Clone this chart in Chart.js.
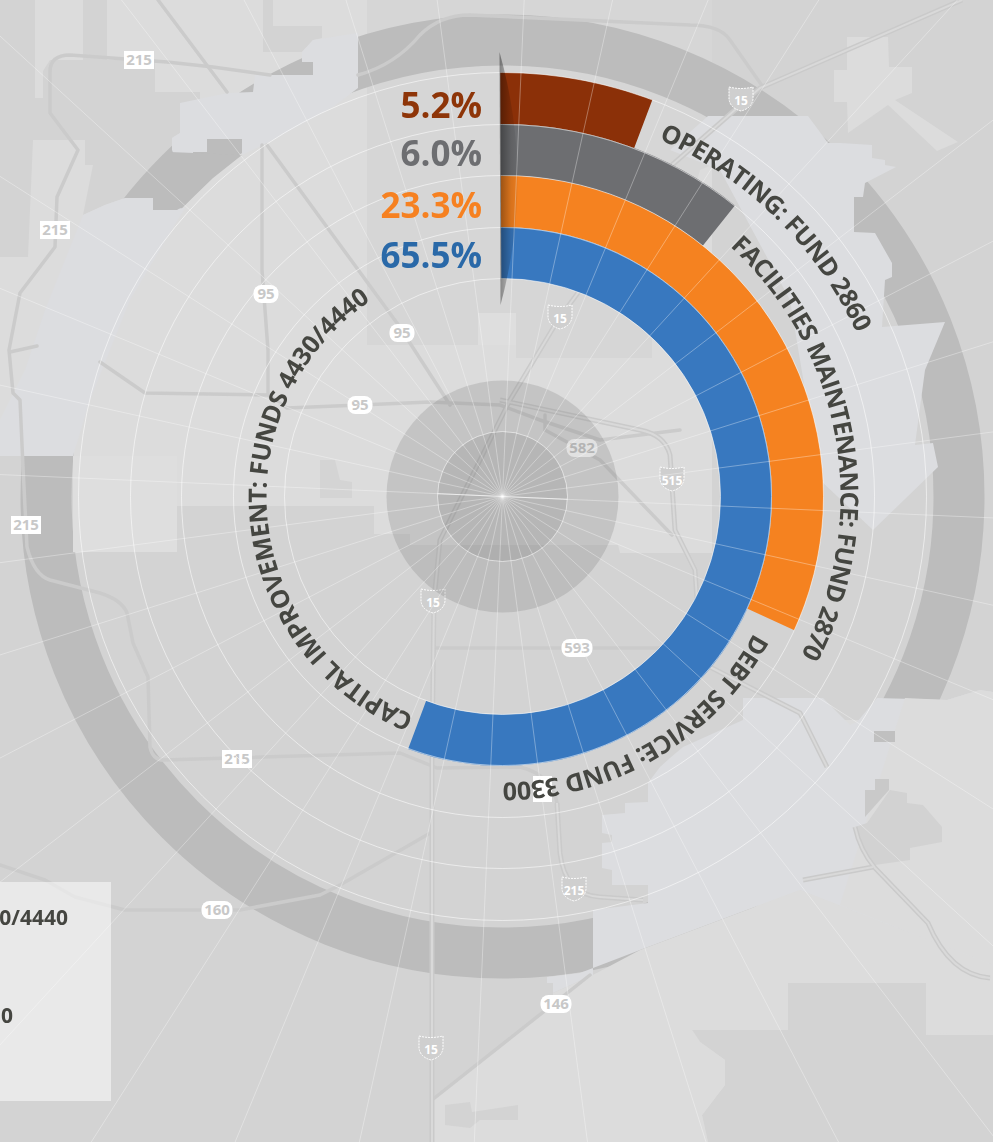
<!DOCTYPE html>
<html>
<head>
<meta charset="utf-8">
<title>Fund allocation</title>
<script src="https://cdn.jsdelivr.net/npm/chart.js@4"></script>
<style>
  html, body { margin: 0; padding: 0; background: #dcdcdc; }
  #wrap { position: relative; width: 993px; height: 1142px; overflow: hidden; }
  #wrap svg, #wrap canvas { position: absolute; left: 0; top: 0; }
  .road { fill: none; stroke: #cbcbcb; stroke-width: 3.5; stroke-linejoin: round; stroke-linecap: round; }
  .hwy { fill: none; stroke: #cacaca; stroke-width: 5; stroke-linejoin: round; }
  .hwy2 { fill: none; stroke: #d9d9d9; stroke-width: 2; stroke-linejoin: round; }
  .tag { fill: #fff; }
  .tagtext { font: 700 15px "Open Sans"; fill: #c8c8c8; text-anchor: middle; }
  .shield { fill: #cfcfcf; stroke: #fff; stroke-width: 1; stroke-dasharray: 2 1; }
  .shieldtext { font: 700 12px "Open Sans"; fill: #fff; text-anchor: middle; }
  .fund { font: 700 25px "Open Sans"; fill: #454641; }
  .box { font: 700 21px "Open Sans"; fill: #454641; text-anchor: end; }
</style>
</head>
<body>
<div id="wrap">
  <!-- map behind the chart -->
  <svg width="993" height="1142" viewBox="0 0 993 1142">
    <rect width="993" height="1142" fill="#dcdcdc"/>
    <g fill="#d3d3d3">
      <polygon points="0,0 35,0 35,98 43,98 43,71 50,60 155,60 155,92 200,92 200,103 180,103 180,133 172,138 172,150 125,198 105,205 83,215 93,165 85,165 85,140 33,140 28,257 0,257"/>
      <rect x="83" y="0" width="24" height="60"/>
      <polygon points="263,0 273,0 273,26 322,26 322,38 313,40 302,52 263,52"/>
      <polygon points="367,0 712,0 712,165 700,170 652,333 652,358 516,358 516,313 478,313 478,345 367,345" fill="#d6d6d6"/>
      <rect x="712" y="0" width="281" height="720"/>
      <polygon points="0,456 73,456 73,552 177,552 177,506 374,506 374,534 410,534 410,545 618,545 620,553 712,553 712,720 760,720 760,900 593,975 432,1100 432,1142 0,1142"/>
      <polygon points="788,983 926,983 926,1035 993,1035 993,1142 708,1142 702,1115 725,1085 725,1060 700,1042 692,1030 788,1030"/>
      <polygon points="445,1105 470,1102 472,1112 518,1105 518,1120 480,1120 470,1128 445,1125"/>
    </g>
    <!-- wide ring, partly hidden by the lighter areas -->
    <circle cx="502.5" cy="496.5" r="456.5" fill="none" stroke="#bcbcbc" stroke-width="51"/>
    <g fill="#dcdde0">
      <polygon points="358,33 313,40 302,52 302,62 313,62 313,75 255,75 253,92 228,93 180,103 180,133 172,138 172,150 177,163 193,163 193,152 207,152 207,139 242,139 242,155 267,143 333,107 358,88"/>
      <polygon points="83,215 105,205 125,198 153,198 153,210 185,208 130,300 90,400 73,456 0,456 0,420 25,370 45,310"/>
      <polygon points="708,116 808,116 828,143 840,143 872,145 872,158 885,160 885,165 896,167 865,183 863,197 854,197 854,232 875,233 892,263 892,277 885,280 882,327 945,322 925,370 915,445 933,443 938,467 873,530 820,480 790,300 720,170 670,150"/>
      <polygon points="743,698 823,698 850,725 857,722 877,698 947,700 980,690 993,692 993,965 800,890 640,950 580,973 547,977 547,983 553,983 553,993 593,975 593,910 648,903 648,885 612,885 612,870 602,868 602,843 612,842 612,835 602,833 602,815 625,813 625,803 648,802 648,783 660,767 670,758 683,747 743,720"/>
    </g>
    <polygon points="905,698 947,700 980,690 993,692 993,965 840,905" fill="#dcdcdc"/>
    <polygon points="800,890 993,965 993,1030 926,1035 926,983 788,983 788,1030 692,1030 700,1042 725,1060 725,1085 702,1115 708,1142 553,1142 553,993 593,975 640,950" fill="#dcdcdc"/>
    <polygon points="847,55 847,37 888,37 889,67 912,67 912,93 895,100 958,142 937,151 888,105 848,133 847,102 834,102 834,70 847,70" fill="#dcdcdc"/>
    <rect x="874" y="731" width="21" height="11" fill="#c0c0c0"/>
    <polygon points="875,779 889,779 889,790 865,817 865,790 875,790" fill="#c9c9c9"/>
    <polygon points="890,790 907,793 907,803 923,805 942,827 942,842 910,848 910,860 875,865 863,853 855,827 867,823" fill="#d2d2d2"/>
    <polygon points="170,152 242,155 213,178 185,205 177,210 153,210 153,198 125,198" fill="#bcbcbc"/>
    <!-- light blocks west of the centre -->
    <polygon points="73,456 177,456 177,552 73,552" fill="#dedede"/>
    <polygon points="478,313 516,313 516,345 478,345" fill="#dedede"/>
    <polygon points="320,460 335,460 340,480 352,482 352,498 320,498" fill="#d4d4d4"/>
    <!-- roads -->
    <path class="road" d="M270,75 L213,67 L167,62 L70,55 Q50,55 50,72 L50,113 L78,150 L57,197 L55,247 L20,293 L9,350 L13,393 L20,400 L23,467 L27,547 Q34,575 50,580 L100,593 Q122,600 127,613 L133,643 L148,677 L150,747 Q153,760 163,760 L400,753 L437,768 L520,767 Q552,775 557,803"/>
    <path class="road" d="M158,0 L227,92 M267,145 L397,323 L450,405 M10,352 L37,346 M262,145 L262,270 L268,350 L268,395 M100,362 L145,393 L268,395 L287,408 L360,405 L430,402 L500,405 L540,420 L600,440 L680,430"/>
    <path class="road" d="M358,75 Q395,65 420,35 Q440,15 470,15 L690,25 Q720,25 730,40 L763,87"/>
    <path class="road" d="M435,648 L720,648 M432,1100 L590,975 M0,865 L45,880 L75,897 L125,910 L240,910 L320,895 L340,885 L432,832 M545,415 L545,430 L600,460 L672,535"/>
    <path class="hwy" d="M962,0 L760,88 L672,165 L558,320 L540,350 L510,400 L490,440 L440,540 L434,600 L432,760 L432,1142 M500,400 L640,430 Q665,435 670,455 L675,530 L695,570 L697,600 M710,667 L800,713 L827,767 M557,803 L560,853 Q565,895 600,897 L643,900 M855,827 Q860,850 875,868 L928,923 Q950,975 990,978 M873,867 L803,880"/>
    <path class="hwy2" d="M962,0 L760,88 L672,165 L558,320 L540,350 L510,400 L490,440 L440,540 L434,600 L432,760 L432,1142 M500,400 L640,430 Q665,435 670,455 L675,530 L695,570 L697,600 M710,667 L800,713 L827,767 M557,803 L560,853 Q565,895 600,897 L643,900 M855,827 Q860,850 875,868 L928,923 Q950,975 990,978 M873,867 L803,880"/>
    <!-- road tags -->
    <g id="tags"></g>
    <!-- legend box, cut by the picture's left edge -->
    <rect x="0" y="882" width="111" height="219" fill="#fff" fill-opacity="0.5"/>
  </svg>
  <canvas id="fundChart" width="993" height="1142"></canvas>
  <svg id="overlay" width="993" height="1142" viewBox="0 0 993 1142">
    <rect x="533" y="776" width="19" height="26" fill="#fff"/>
    <defs id="arcs"></defs>
    <g id="fundLabels"></g>
    <text class="box" x="68" y="925">0/4440</text>
    <text class="box" x="13" y="1023">0</text>
  </svg>
</div>

<script>
const FUNDS = ['OPERATING: FUND 2860', 'FACILITIES MAINTENANCE: FUND 2870', 'DEBT SERVICE: FUND 3300', 'CAPITAL IMPROVEMENT: FUNDS 4430/4440'];
const PERCENTS = ['5.2%', '6.0%', '23.3%', '65.5%'];
// arc length of each bar in degrees
const SWEEPS = [21, 38.9, 114.9, 200.8];

const BAR_COLORS = ['#8b3008', '#6d6e71', '#f58220', '#3878bf'];
const TEXT_COLORS = ['#8e3508', '#6d6e71', '#f68121', '#2a69a8'];
const CX = 502.5, CY = 496.5;

// baseline radius, start and end angle of the curved names
const LABEL_ARCS = [
  { r: 390, a0: 23.6, a1: 65.2 },
  { r: 338, a0: 42.3, a1: 118 },
  { r: 286, a0: 118.5, a1: 180 },
  { r: 236, a0: 202, a1: 326 },
];

function polar(r, deg) {
  const t = deg * Math.PI / 180;
  return [CX + r * Math.sin(t), CY - r * Math.cos(t)];
}

const SVG_NS = 'http://www.w3.org/2000/svg';
function el(name, attrs, text) {
  const e = document.createElementNS(SVG_NS, name);
  Object.entries(attrs).forEach(([k, v]) => e.setAttribute(k, v));
  if (text) e.textContent = text;
  return e;
}

FUNDS.forEach((name, i) => {
  const { r, a0, a1 } = LABEL_ARCS[i];
  const s = polar(r, a0), e = polar(r, a1 + 3);
  const large = a1 + 3 - a0 > 180 ? 1 : 0;
  document.getElementById('arcs').appendChild(el('path', {
    id: 'arc' + i, d: `M${s[0]},${s[1]} A${r},${r} 0 ${large} 1 ${e[0]},${e[1]}`,
  }));
  const t = el('text', { class: 'fund' });
  const tp = el('textPath', { href: '#arc' + i, textLength: r * (a1 - a0) * Math.PI / 180, lengthAdjust: 'spacing' }, name);
  t.appendChild(tp);
  document.getElementById('fundLabels').appendChild(t);
});

// road markers
const RECT_TAGS = [['215', 139, 60], ['215', 55, 230], ['215', 26, 525], ['215', 237, 759]];
const PILL_TAGS = [['582', 582, 448], ['593', 577, 648], ['160', 217, 910], ['146', 556, 1004], ['95', 266, 294], ['95', 402, 333], ['95', 360, 405]];
const SHIELD_TAGS = [['15', 741, 98], ['15', 560, 316], ['515', 672, 478], ['15', 433, 600], ['215', 574, 888], ['15', 431, 1047]];
const tags = document.getElementById('tags');
RECT_TAGS.forEach(([t, x, y]) => {
  tags.appendChild(el('rect', { class: 'tag', x: x - 15, y: y - 9, width: 30, height: 18 }));
  tags.appendChild(el('text', { class: 'tagtext', x, y: y + 5 }, t));
});
PILL_TAGS.forEach(([t, x, y]) => {
  const w = t.length > 2 ? 31 : 25;
  tags.appendChild(el('rect', { class: 'tag', x: x - w / 2, y: y - 9, width: w, height: 18, rx: 8 }));
  tags.appendChild(el('text', { class: 'tagtext', x, y: y + 5 }, t));
});
SHIELD_TAGS.forEach(([t, x, y]) => {
  tags.appendChild(el('path', { class: 'shield', d: `M${x - 12},${y - 11} Q${x},${y - 8} ${x + 12},${y - 11} L${x + 12},${y + 1} Q${x + 11},${y + 10} ${x},${y + 13} Q${x - 11},${y + 10} ${x - 12},${y + 1} Z` }));
  tags.appendChild(el('text', { class: 'shieldtext', x, y: y + 7 }, t));
});

// discs behind the bars, grid and shadow over them, percent labels on top
const backdrop = {
  id: 'backdrop',
  beforeDatasetsDraw(chart) {
    const { ctx } = chart;
    ctx.save();
    ctx.fillStyle = 'rgba(90,90,90,0.18)';
    ctx.beginPath(); ctx.arc(CX, CY, 116, 0, Math.PI * 2); ctx.fill();
    ctx.fillStyle = 'rgba(90,90,90,0.13)';
    ctx.beginPath(); ctx.arc(CX, CY, 65, 0, Math.PI * 2); ctx.fill();
    ctx.restore();
  },
  afterDatasetsDraw(chart) {
    const { ctx } = chart;
    ctx.save();
    ctx.lineWidth = 1;
    ctx.strokeStyle = 'rgba(255,255,255,0.33)';
    for (let a = 2.5; a < 360; a += 10) {
      const p = polar(1000, a);
      ctx.beginPath(); ctx.moveTo(CX, CY); ctx.lineTo(p[0], p[1]); ctx.stroke();
    }
    ctx.strokeStyle = 'rgba(255,255,255,0.55)';
    [65, 218, 269, 321, 372, 424].forEach(r => {
      ctx.beginPath(); ctx.arc(CX, CY, r, 0, Math.PI * 2); ctx.stroke();
    });
    ctx.strokeStyle = 'rgba(255,255,255,0.6)';
    const e0 = polar(65, 92.5), e1 = polar(65, 272.5);
    ctx.beginPath(); ctx.moveTo(e0[0], e0[1]); ctx.lineTo(e1[0], e1[1]); ctx.stroke();

    // shadow where the bars start
    const g = ctx.createLinearGradient(500, 0, 522, 0);
    g.addColorStop(0, 'rgba(0,0,0,0.38)');
    g.addColorStop(0.5, 'rgba(0,0,0,0.12)');
    g.addColorStop(1, 'rgba(0,0,0,0)');
    ctx.fillStyle = g;
    ctx.beginPath();
    ctx.moveTo(499.5, 52);
    ctx.quadraticCurveTo(535, 178, 500.5, 305);
    ctx.closePath();
    ctx.fill();

    ctx.font = '700 35px "Open Sans"';
    ctx.textAlign = 'right';
    ctx.textBaseline = 'alphabetic';
    [118, 166, 218, 268].forEach((y, i) => {
      ctx.fillStyle = TEXT_COLORS[i];
      ctx.fillText(PERCENTS[i], 482, y);
    });
    ctx.restore();
  }
};

new Chart(document.getElementById('fundChart'), {
  type: 'doughnut',
  data: {
    labels: ['share', 'rest'],
    datasets: SWEEPS.map((v, i) => ({
      label: FUNDS[i],
      data: [v, 360 - v],
      backgroundColor: [BAR_COLORS[i], 'rgba(0,0,0,0)'],
      borderWidth: 0,
    })),
  },
  options: {
    responsive: false,
    animation: false,
    devicePixelRatio: 1,
    rotation: -0.3,
    radius: 424,
    cutout: (218 / 424 * 100) + '%',
    layout: { padding: { left: 12, right: 0, top: 0, bottom: 149 } },
    events: [],
    plugins: { legend: { display: false }, tooltip: { enabled: false } },
  },
  plugins: [backdrop],
});
</script>
</body>
</html>
